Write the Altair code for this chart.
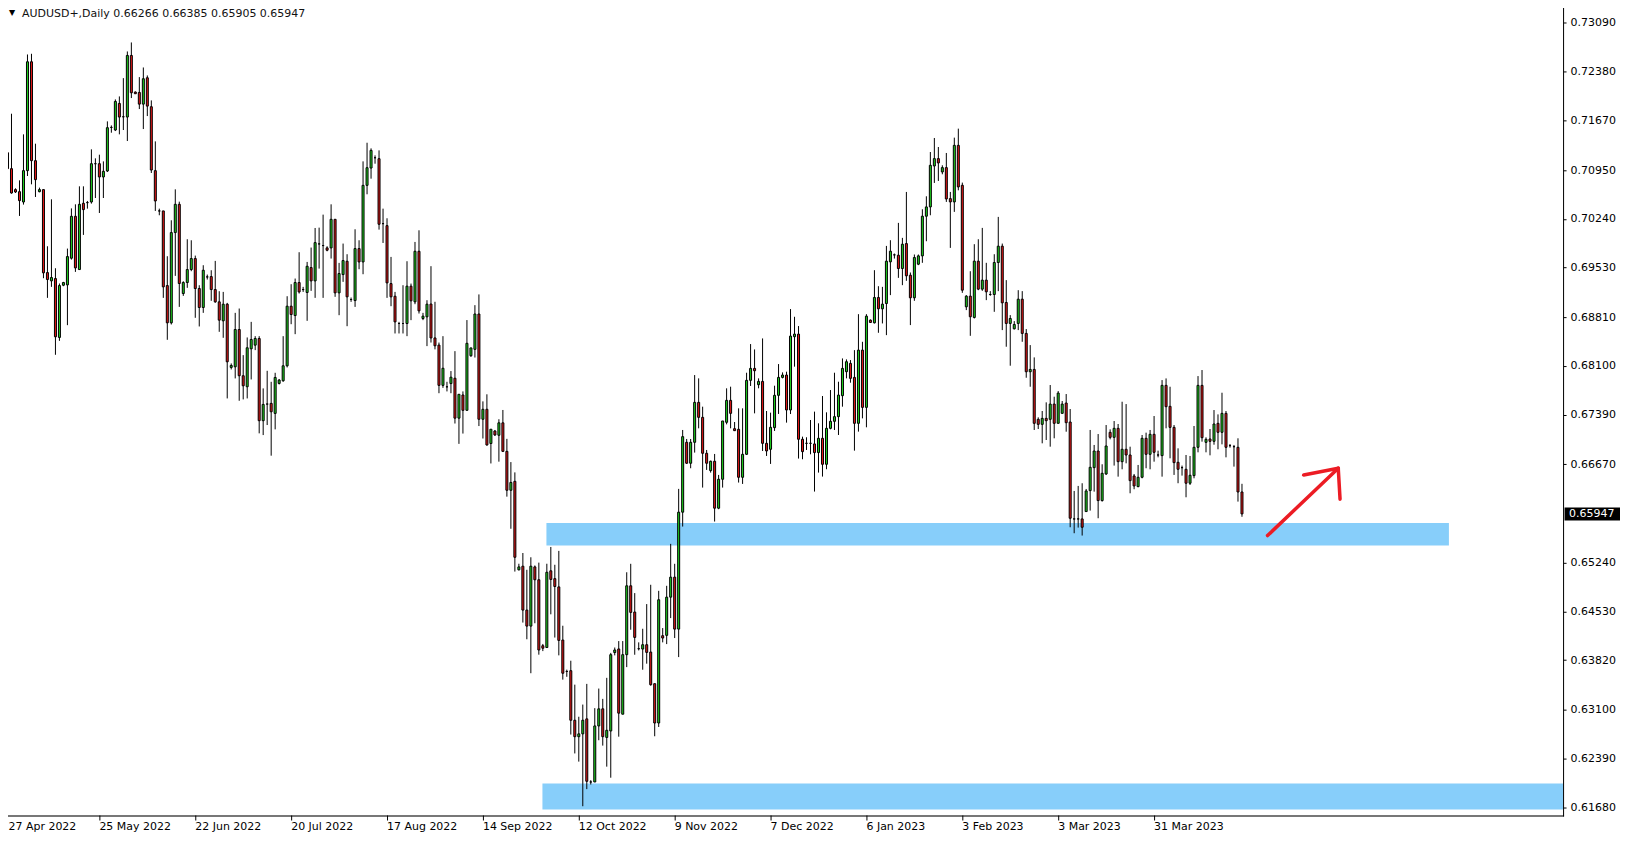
import altair as alt
import pandas as pd

# ---- daily candles (bar index 0 = 27 Apr 2022) ----
OPEN = [
    0.71178, 0.71202, 0.70970, 0.70665, 0.70635, 0.70485, 0.70941, 0.72525, 0.71086, 0.70635,
    0.70665, 0.69458, 0.69337, 0.69371, 0.68514, 0.69274, 0.69279, 0.69667, 0.70277, 0.69502,
    0.70466, 0.70476, 0.70485, 0.71042, 0.71042, 0.70849, 0.70936, 0.71570, 0.71532, 0.71919,
    0.71725, 0.71721, 0.72617, 0.72084, 0.72079, 0.71909, 0.72292, 0.71871, 0.70941, 0.70355,
    0.70355, 0.69269, 0.68727, 0.70040, 0.70451, 0.69153, 0.69313, 0.69502, 0.69662, 0.69226,
    0.68950, 0.69395, 0.69400, 0.69211, 0.69032, 0.68756, 0.68998, 0.68078, 0.68087, 0.68630,
    0.67957, 0.67797, 0.68349, 0.68402, 0.68499, 0.67303, 0.67545, 0.67555, 0.67409, 0.67845,
    0.67884, 0.68102, 0.68969, 0.68833, 0.69313, 0.69211, 0.69168, 0.69531, 0.69337, 0.69875,
    0.69851, 0.69817, 0.69817, 0.70233, 0.69163, 0.69429, 0.69623, 0.69066, 0.69051, 0.69807,
    0.69613, 0.70727, 0.70979, 0.71129, 0.71115, 0.70170, 0.70141, 0.69298, 0.69114, 0.68717,
    0.68717, 0.68717, 0.69260, 0.69032, 0.69768, 0.68790, 0.68814, 0.69000, 0.68507, 0.68403,
    0.67817, 0.67796, 0.67843, 0.67921, 0.67340, 0.67677, 0.67454, 0.68248, 0.68341, 0.68855,
    0.67324, 0.67469, 0.66971, 0.67153, 0.67091, 0.67272, 0.66857, 0.66291, 0.66421, 0.65134,
    0.65186, 0.64548, 0.64315, 0.65176, 0.64989, 0.64029, 0.64003, 0.65119, 0.65005, 0.64885,
    0.64112, 0.63655, 0.63666, 0.62945, 0.62706, 0.62747, 0.62965, 0.62047, 0.62047, 0.62862,
    0.63111, 0.62695, 0.62789, 0.63930, 0.63982, 0.63033, 0.63899, 0.64901, 0.64519, 0.63986,
    0.63981, 0.64044, 0.63937, 0.63477, 0.62905, 0.64175, 0.64180, 0.64736, 0.65027, 0.64271,
    0.65972, 0.66989, 0.66684, 0.66989, 0.67570, 0.67352, 0.66829, 0.66577, 0.66713, 0.66030,
    0.66451, 0.67280, 0.67599, 0.67187, 0.67178, 0.66480, 0.66814, 0.67890, 0.68064, 0.67827,
    0.67875, 0.66974, 0.66887, 0.67202, 0.67672, 0.67933, 0.67967, 0.67459, 0.68525, 0.68563,
    0.67033, 0.66974, 0.66974, 0.66965, 0.66839, 0.67047, 0.66669, 0.67192, 0.67294, 0.67362,
    0.67667, 0.68016, 0.68137, 0.67933, 0.67265, 0.68330, 0.67497, 0.68766, 0.68727, 0.69096,
    0.68931, 0.69008, 0.69614, 0.69716, 0.69711, 0.69517, 0.69880, 0.69420, 0.69091, 0.69580,
    0.69701, 0.70278, 0.70413, 0.71009, 0.71116, 0.70922, 0.70985, 0.70534, 0.70486, 0.71309,
    0.70728, 0.68960, 0.69115, 0.68805, 0.69624, 0.69217, 0.69348, 0.69139, 0.69139, 0.69604,
    0.69842, 0.69023, 0.68718, 0.68640, 0.68718, 0.69071, 0.68573, 0.68015, 0.68049, 0.67323,
    0.67250, 0.67337, 0.67323, 0.67545, 0.67265, 0.67410, 0.67560, 0.67284, 0.65874, 0.65874,
    0.65874, 0.65981, 0.66286, 0.66620, 0.66862, 0.66141, 0.66528, 0.67134, 0.67061, 0.67192,
    0.66707, 0.66887, 0.66804, 0.66499, 0.66344, 0.66480, 0.67047, 0.66814, 0.67105, 0.66804,
    0.66795, 0.67817, 0.67512, 0.67206, 0.66698, 0.66620, 0.66596, 0.66393, 0.66504, 0.66916,
    0.67817, 0.66988, 0.67037, 0.67003, 0.67265, 0.67134, 0.67410, 0.66940, 0.66925, 0.66916,
    0.66266,
]
HIGH = [
    0.71890, 0.71614, 0.71769, 0.70684, 0.70800, 0.71469, 0.72631, 0.72641, 0.71333, 0.70694,
    0.70665, 0.69841, 0.70524, 0.69521, 0.69299, 0.69323, 0.69807, 0.70392, 0.70451, 0.70713,
    0.70713, 0.70500, 0.71251, 0.71120, 0.71173, 0.71076, 0.71658, 0.71599, 0.71977, 0.72021,
    0.72287, 0.72675, 0.72806, 0.72094, 0.72302, 0.72442, 0.72326, 0.71963, 0.71367, 0.70388,
    0.70355, 0.69696, 0.70219, 0.70669, 0.70490, 0.69332, 0.69943, 0.69928, 0.69705, 0.69274,
    0.69565, 0.69429, 0.69492, 0.69628, 0.69187, 0.69177, 0.69017, 0.68136, 0.68872, 0.68935,
    0.68257, 0.68514, 0.68741, 0.68533, 0.68533, 0.67773, 0.68029, 0.67869, 0.68000, 0.67910,
    0.68533, 0.69114, 0.69289, 0.69371, 0.69754, 0.69250, 0.69613, 0.69822, 0.70107, 0.70112,
    0.70301, 0.69841, 0.70451, 0.70233, 0.69599, 0.69880, 0.69725, 0.69095, 0.70088, 0.69928,
    0.71076, 0.71347, 0.71265, 0.71163, 0.71236, 0.70388, 0.70248, 0.69686, 0.69177, 0.68741,
    0.69274, 0.69623, 0.69298, 0.69904, 0.70073, 0.68872, 0.69056, 0.69551, 0.69033, 0.68440,
    0.68533, 0.67869, 0.68025, 0.68315, 0.67687, 0.67729, 0.68767, 0.68362, 0.68984, 0.69140,
    0.67584, 0.67687, 0.67179, 0.67168, 0.67324, 0.67459, 0.67039, 0.66701, 0.66551, 0.65222,
    0.65378, 0.65134, 0.65316, 0.65197, 0.65238, 0.64055, 0.65222, 0.65466, 0.65207, 0.65409,
    0.64320, 0.63681, 0.63811, 0.63463, 0.62996, 0.63173, 0.63474, 0.62073, 0.63121, 0.63406,
    0.63256, 0.63562, 0.63925, 0.64003, 0.64097, 0.64097, 0.65098, 0.65221, 0.64795, 0.64078,
    0.64276, 0.64635, 0.64916, 0.63477, 0.64828, 0.64286, 0.64901, 0.65511, 0.65221, 0.66311,
    0.67168, 0.67037, 0.67037, 0.67967, 0.67919, 0.67507, 0.66877, 0.66722, 0.66819, 0.66514,
    0.67299, 0.67774, 0.67798, 0.67284, 0.67483, 0.67483, 0.68001, 0.68418, 0.68340, 0.67919,
    0.68500, 0.67444, 0.67420, 0.67812, 0.68127, 0.68006, 0.68016, 0.68927, 0.68815, 0.68680,
    0.67071, 0.67062, 0.67313, 0.67435, 0.67265, 0.67662, 0.67425, 0.67749, 0.68001, 0.67870,
    0.68209, 0.68195, 0.68185, 0.68330, 0.68853, 0.68451, 0.68853, 0.68776, 0.69493, 0.69260,
    0.69250, 0.69846, 0.69929, 0.69735, 0.70181, 0.69963, 0.70631, 0.69459, 0.69721, 0.69721,
    0.70379, 0.70568, 0.71212, 0.71416, 0.71285, 0.71019, 0.71198, 0.70631, 0.71421, 0.71552,
    0.70767, 0.69130, 0.69478, 0.69871, 0.69943, 0.70108, 0.69600, 0.69188, 0.69725, 0.70268,
    0.69880, 0.69348, 0.68839, 0.68752, 0.69202, 0.69188, 0.68636, 0.68403, 0.68224, 0.67352,
    0.67444, 0.67570, 0.67822, 0.67652, 0.67734, 0.67589, 0.67691, 0.67473, 0.66281, 0.66354,
    0.66393, 0.66310, 0.67168, 0.66950, 0.67109, 0.66669, 0.67240, 0.67177, 0.67298, 0.67255,
    0.67579, 0.67545, 0.66925, 0.66528, 0.66659, 0.67095, 0.67129, 0.67168, 0.67371, 0.66867,
    0.67894, 0.67918, 0.67797, 0.67240, 0.66901, 0.66650, 0.66804, 0.66790, 0.67226, 0.67952,
    0.68040, 0.67061, 0.67182, 0.67458, 0.67395, 0.67710, 0.67444, 0.66964, 0.66950, 0.67047,
    0.66385,
]
LOW = [
    0.70994, 0.70534, 0.70606, 0.70616, 0.70282, 0.70447, 0.70863, 0.70742, 0.70558, 0.70626,
    0.69376, 0.69090, 0.69250, 0.68262, 0.68465, 0.69260, 0.68693, 0.69647, 0.69468, 0.69502,
    0.70006, 0.70388, 0.70461, 0.70543, 0.70325, 0.70543, 0.70921, 0.71493, 0.71517, 0.71469,
    0.71532, 0.71372, 0.71997, 0.72060, 0.71837, 0.71546, 0.71735, 0.70907, 0.70355, 0.70292,
    0.69090, 0.68480, 0.68703, 0.69410, 0.68959, 0.69119, 0.69236, 0.69478, 0.68800, 0.68674,
    0.68872, 0.69357, 0.69047, 0.69018, 0.68596, 0.68509, 0.67627, 0.68049, 0.67918, 0.67593,
    0.67613, 0.67627, 0.67903, 0.68330, 0.67119, 0.67094, 0.67240, 0.66794, 0.67177, 0.67830,
    0.67869, 0.68078, 0.68707, 0.68562, 0.69153, 0.69177, 0.68756, 0.69192, 0.69090, 0.69516,
    0.69090, 0.69768, 0.69662, 0.69105, 0.68838, 0.69323, 0.68678, 0.69032, 0.68959, 0.69507,
    0.69434, 0.70597, 0.70824, 0.71042, 0.70083, 0.69889, 0.69090, 0.68969, 0.68572, 0.68572,
    0.68572, 0.68533, 0.68766, 0.68998, 0.68862, 0.68766, 0.68388, 0.68440, 0.68341, 0.67703,
    0.67781, 0.67729, 0.67703, 0.67262, 0.66966, 0.67116, 0.67454, 0.68232, 0.68222, 0.67225,
    0.67044, 0.66940, 0.66681, 0.67080, 0.66707, 0.66847, 0.66198, 0.65731, 0.65108, 0.65124,
    0.64366, 0.64123, 0.63629, 0.64356, 0.63899, 0.63951, 0.64003, 0.64486, 0.64148, 0.63889,
    0.63536, 0.63577, 0.62737, 0.62462, 0.62343, 0.61694, 0.61943, 0.62010, 0.62047, 0.62654,
    0.62576, 0.62270, 0.62109, 0.63889, 0.62706, 0.63033, 0.63718, 0.64262, 0.63898, 0.63961,
    0.63680, 0.63768, 0.63448, 0.62712, 0.62847, 0.64078, 0.64053, 0.64431, 0.64141, 0.63864,
    0.65763, 0.66674, 0.66611, 0.66839, 0.67192, 0.66330, 0.66587, 0.66548, 0.65836, 0.66015,
    0.66330, 0.67250, 0.67192, 0.67158, 0.66403, 0.66383, 0.66805, 0.67808, 0.67410, 0.67774,
    0.66863, 0.66790, 0.66674, 0.67154, 0.67401, 0.67919, 0.67275, 0.67400, 0.68089, 0.66752,
    0.66742, 0.66877, 0.66814, 0.66272, 0.66548, 0.66490, 0.66597, 0.67178, 0.67168, 0.67095,
    0.67507, 0.67919, 0.67856, 0.66867, 0.67144, 0.67337, 0.67207, 0.68732, 0.68718, 0.68582,
    0.68718, 0.68548, 0.69130, 0.69662, 0.69381, 0.69275, 0.69338, 0.68694, 0.69047, 0.69566,
    0.69600, 0.69914, 0.70292, 0.70762, 0.70791, 0.70888, 0.70486, 0.69817, 0.70341, 0.70655,
    0.69163, 0.68912, 0.68538, 0.68790, 0.69202, 0.69192, 0.69057, 0.69120, 0.68887, 0.69188,
    0.68621, 0.68379, 0.68103, 0.68631, 0.68621, 0.68451, 0.67928, 0.67797, 0.67168, 0.67182,
    0.66974, 0.67022, 0.66925, 0.67047, 0.67265, 0.67410, 0.67143, 0.65753, 0.65666, 0.65748,
    0.65632, 0.65981, 0.65995, 0.66271, 0.65884, 0.66126, 0.66514, 0.67032, 0.66650, 0.66489,
    0.66596, 0.66683, 0.66247, 0.66306, 0.66335, 0.66465, 0.66611, 0.66596, 0.66707, 0.66770,
    0.66489, 0.67192, 0.66756, 0.66514, 0.66393, 0.66504, 0.66189, 0.66368, 0.66465, 0.66843,
    0.66998, 0.66843, 0.66799, 0.66954, 0.66887, 0.66959, 0.66770, 0.66911, 0.66635, 0.66126,
    0.65905,
]
CLOSE = [
    0.71202, 0.70970, 0.70616, 0.70631, 0.70505, 0.70941, 0.72525, 0.71086, 0.70810, 0.70665,
    0.69454, 0.69357, 0.69386, 0.68524, 0.69269, 0.69313, 0.69691, 0.70277, 0.69526, 0.70451,
    0.70374, 0.70476, 0.71042, 0.71042, 0.70849, 0.70931, 0.71566, 0.71570, 0.71948, 0.71721,
    0.71725, 0.72617, 0.72074, 0.72060, 0.71909, 0.72278, 0.71880, 0.70950, 0.70500, 0.70355,
    0.69250, 0.68727, 0.70040, 0.70451, 0.69299, 0.69313, 0.69502, 0.69662, 0.69226, 0.68950,
    0.69492, 0.69395, 0.69211, 0.69032, 0.68766, 0.68998, 0.68160, 0.68107, 0.68630, 0.67957,
    0.67811, 0.68364, 0.68485, 0.68499, 0.67303, 0.67540, 0.67545, 0.67433, 0.67932, 0.67894,
    0.68102, 0.68969, 0.68848, 0.69313, 0.69177, 0.69211, 0.69550, 0.69337, 0.69894, 0.69875,
    0.69851, 0.69783, 0.70233, 0.69163, 0.69444, 0.69633, 0.69105, 0.69066, 0.69807, 0.69613,
    0.70727, 0.70984, 0.71236, 0.71129, 0.70161, 0.70170, 0.69308, 0.69105, 0.68741, 0.68717,
    0.68717, 0.69260, 0.69047, 0.69768, 0.68901, 0.68824, 0.68998, 0.68507, 0.68393, 0.67817,
    0.68066, 0.67796, 0.67936, 0.67340, 0.67687, 0.67454, 0.68429, 0.68362, 0.68855, 0.67324,
    0.67469, 0.66950, 0.67179, 0.67096, 0.67272, 0.66857, 0.66291, 0.66405, 0.65316, 0.65176,
    0.64548, 0.64315, 0.65186, 0.64989, 0.63967, 0.63993, 0.65098, 0.64994, 0.64891, 0.64107,
    0.63629, 0.63655, 0.62945, 0.62706, 0.62747, 0.62945, 0.62057, 0.62047, 0.62862, 0.63111,
    0.62706, 0.62799, 0.63899, 0.63967, 0.63048, 0.63899, 0.64901, 0.64514, 0.64150, 0.63986,
    0.64044, 0.63932, 0.63462, 0.62905, 0.64698, 0.64141, 0.64736, 0.65027, 0.64271, 0.65972,
    0.67071, 0.66684, 0.66989, 0.67570, 0.67352, 0.66829, 0.66684, 0.66713, 0.66030, 0.66451,
    0.67299, 0.67599, 0.67410, 0.67158, 0.66480, 0.66814, 0.67890, 0.68064, 0.68030, 0.67875,
    0.66974, 0.66863, 0.67207, 0.67672, 0.67933, 0.67967, 0.67459, 0.68534, 0.68563, 0.67033,
    0.66853, 0.66974, 0.66974, 0.66839, 0.67047, 0.66669, 0.67192, 0.67294, 0.67362, 0.67676,
    0.68064, 0.68161, 0.67919, 0.67265, 0.68330, 0.67497, 0.68824, 0.68732, 0.69096, 0.68931,
    0.68999, 0.69624, 0.69769, 0.69716, 0.69517, 0.69871, 0.69411, 0.69091, 0.69677, 0.69701,
    0.70278, 0.70413, 0.71019, 0.71116, 0.71053, 0.70985, 0.70529, 0.70486, 0.71309, 0.70704,
    0.69202, 0.69115, 0.68815, 0.69624, 0.69217, 0.69348, 0.69178, 0.69139, 0.69604, 0.69842,
    0.69018, 0.68718, 0.68790, 0.68703, 0.69071, 0.68573, 0.68015, 0.68049, 0.67265, 0.67250,
    0.67337, 0.67303, 0.67545, 0.67265, 0.67705, 0.67545, 0.67274, 0.65884, 0.65874, 0.65874,
    0.65753, 0.66281, 0.66625, 0.66862, 0.66141, 0.66538, 0.66935, 0.67061, 0.67192, 0.66707,
    0.66887, 0.66804, 0.66431, 0.66354, 0.66480, 0.67047, 0.66814, 0.67105, 0.66843, 0.66804,
    0.67817, 0.67507, 0.67206, 0.66693, 0.66596, 0.66620, 0.66393, 0.66509, 0.66916, 0.67817,
    0.67056, 0.67032, 0.67003, 0.67255, 0.67134, 0.67410, 0.66916, 0.66940, 0.66925, 0.66266,
    0.65947,
]

# ---- axis labels ----
DATE_LABELS = ["27 Apr 2022", "25 May 2022", "22 Jun 2022", "20 Jul 2022", "17 Aug 2022",
               "14 Sep 2022", "12 Oct 2022", "9 Nov 2022", "7 Dec 2022", "6 Jan 2023",
               "3 Feb 2023", "3 Mar 2023", "31 Mar 2023"]
LABEL_STEP = 24
PRICE_TICKS = [0.73090, 0.72380, 0.71670, 0.70950, 0.70240, 0.69530, 0.68810, 0.68100,
               0.67390, 0.66670, 0.65240, 0.64530, 0.63820, 0.63100, 0.62390, 0.61680]

# ---- drawn objects ----
ZONE_START = [135.9, 134.9]
ZONE_END = [361.8, 390.375]
ZONE_TOP = [0.65816, 0.62024]
ZONE_BOTTOM = [0.65487, 0.61646]

ARROW_X = [316.4, 334.1, 334.1]
ARROW_Y = [0.65632, 0.66611, 0.66611]
ARROW_X2 = [334.1, 325.45, 334.55]
ARROW_Y2 = [0.66611, 0.66514, 0.66161]

SYMBOL = "AUDUSD+,Daily"

GREEN = "#1fd21f"
RED = "#e41818"
ZONE_BLUE = "#87cefa"
ARROW_RED = "#ec1c24"
FONT = "DejaVu Sans"

W, H = 1563, 814
X_DOMAIN = [-0.375, 390.375]
Y_DOMAIN = [0.61559, 0.73387]
TICK, LPAD = 5, 1

df = pd.DataFrame({"i": list(range(len(OPEN))), "o": OPEN, "h": HIGH, "l": LOW, "c": CLOSE})
df["dir"] = ["up" if c > o else "down" for o, c in zip(df["o"], df["c"])]

zones = pd.DataFrame({"x0": ZONE_START, "x1": ZONE_END, "y0": ZONE_TOP, "y1": ZONE_BOTTOM})
arrow = pd.DataFrame({"x": ARROW_X, "y": ARROW_Y, "x2": ARROW_X2, "y2": ARROW_Y2})
last = pd.DataFrame({"p": [CLOSE[-1]], "t": [f"{CLOSE[-1]:.5f}"]})
head = pd.DataFrame({"t": [f"{SYMBOL}  {OPEN[-1]:.5f} {HIGH[-1]:.5f} {LOW[-1]:.5f} {CLOSE[-1]:.5f}"],
                     "tri": ["\u25bc"]})
first_label = pd.DataFrame({"t": [DATE_LABELS[0]]})
one = pd.DataFrame({"k": [0]})

xs = alt.Scale(domain=X_DOMAIN, nice=False, zero=False, padding=0)
ys = alt.Scale(domain=Y_DOMAIN, nice=False, zero=False, padding=0)

# the first date label sits at the page's very edge; it is drawn as its own text below
label_array = "[" + ",".join("'" + s + "'" for s in DATE_LABELS) + "]"
x_axis = alt.Axis(values=[k * LABEL_STEP for k in range(1, len(DATE_LABELS))],
                  labelExpr=label_array + "[round(datum.value/" + str(LABEL_STEP) + ")]",
                  orient="bottom", labelAlign="left", labelBaseline="top", translate=0,
                  tickSize=TICK, labelPadding=LPAD, domain=False, grid=False, title=None,
                  labelFont=FONT, labelFontSize=11, labelColor="black", tickColor="black",
                  labelOverlap=False, labelFlush=False, labelBound=False)
y_axis = alt.Axis(values=PRICE_TICKS, format=".5f", orient="right", tickSize=3,
                  labelPadding=4, domain=False, grid=False, title=None, labelFont=FONT,
                  labelFontSize=11, labelColor="black", tickColor="black",
                  labelOverlap=False, labelFlush=False, labelBound=False)


def X(field):
    return alt.X(field, scale=xs, axis=x_axis, title=None)


def Y(field):
    return alt.Y(field, scale=ys, axis=y_axis, title=None)


zone_layer = alt.Chart(zones).mark_rect(color=ZONE_BLUE).encode(
    x=X("x0:Q"), x2="x1:Q", y=Y("y0:Q"), y2="y1:Q")

wick_layer = alt.Chart(df).mark_rule(color="black", strokeWidth=1).encode(
    x=X("i:Q"), y=Y("l:Q"), y2="h:Q")

body_layer = alt.Chart(df).mark_bar(size=2, stroke="black", strokeWidth=1).encode(
    x=X("i:Q"), y=Y("o:Q"), y2="c:Q",
    fill=alt.Fill("dir:N", scale=alt.Scale(domain=["up", "down"], range=[GREEN, RED]), legend=None))

arrow_layer = alt.Chart(arrow).mark_rule(color=ARROW_RED, strokeWidth=3.5, strokeCap="round").encode(
    x=X("x:Q"), y=Y("y:Q"), x2="x2:Q", y2="y2:Q")

frame_right = alt.Chart(one).mark_rule(color="black", strokeWidth=1).encode(
    x=alt.value(W + 0.5), y=alt.value(0), y2=alt.value(H + 1))
frame_bottom = alt.Chart(one).mark_rule(color="black", strokeWidth=1).encode(
    x=alt.value(0), x2=alt.value(W + 1), y=alt.value(H + 0.5))

first_date = alt.Chart(first_label).mark_text(color="black", align="left", baseline="top",
                                              font=FONT, fontSize=11).encode(
    x=alt.value(6.5), y=alt.value(H + TICK + LPAD), text="t:N")

tag_box = alt.Chart(last).mark_rule(color="black", strokeWidth=13, strokeCap="butt").encode(
    x=alt.value(W + 1.5), x2=alt.value(W + 57), y=Y("p:Q"))
tag_text = alt.Chart(last).mark_text(color="white", align="left", baseline="middle",
                                     font=FONT, fontSize=11).encode(
    x=alt.value(W + 6), y=Y("p:Q"), text="t:N")

head_tri = alt.Chart(head).mark_text(color="black", align="center", baseline="middle",
                                     font=FONT, fontSize=8).encode(
    x=alt.value(10), y=alt.value(10.5), text="tri:N")
head_text = alt.Chart(head).mark_text(color="#111111", align="left", baseline="middle",
                                      font=FONT, fontSize=11).encode(
    x=alt.value(20), y=alt.value(11), text="t:N")

chart = alt.layer(zone_layer, wick_layer, body_layer, arrow_layer, frame_right, frame_bottom,
                  first_date, tag_box, tag_text, head_tri, head_text).properties(
    width=W, height=H,
    padding={"left": -6, "top": -6, "right": 58, "bottom": 20},
    autosize=alt.AutoSizeParams(type="none"),
).configure_view(strokeWidth=0).configure(background="white")

chart.save("out.html", embed_options={"renderer": "svg", "actions": False})
